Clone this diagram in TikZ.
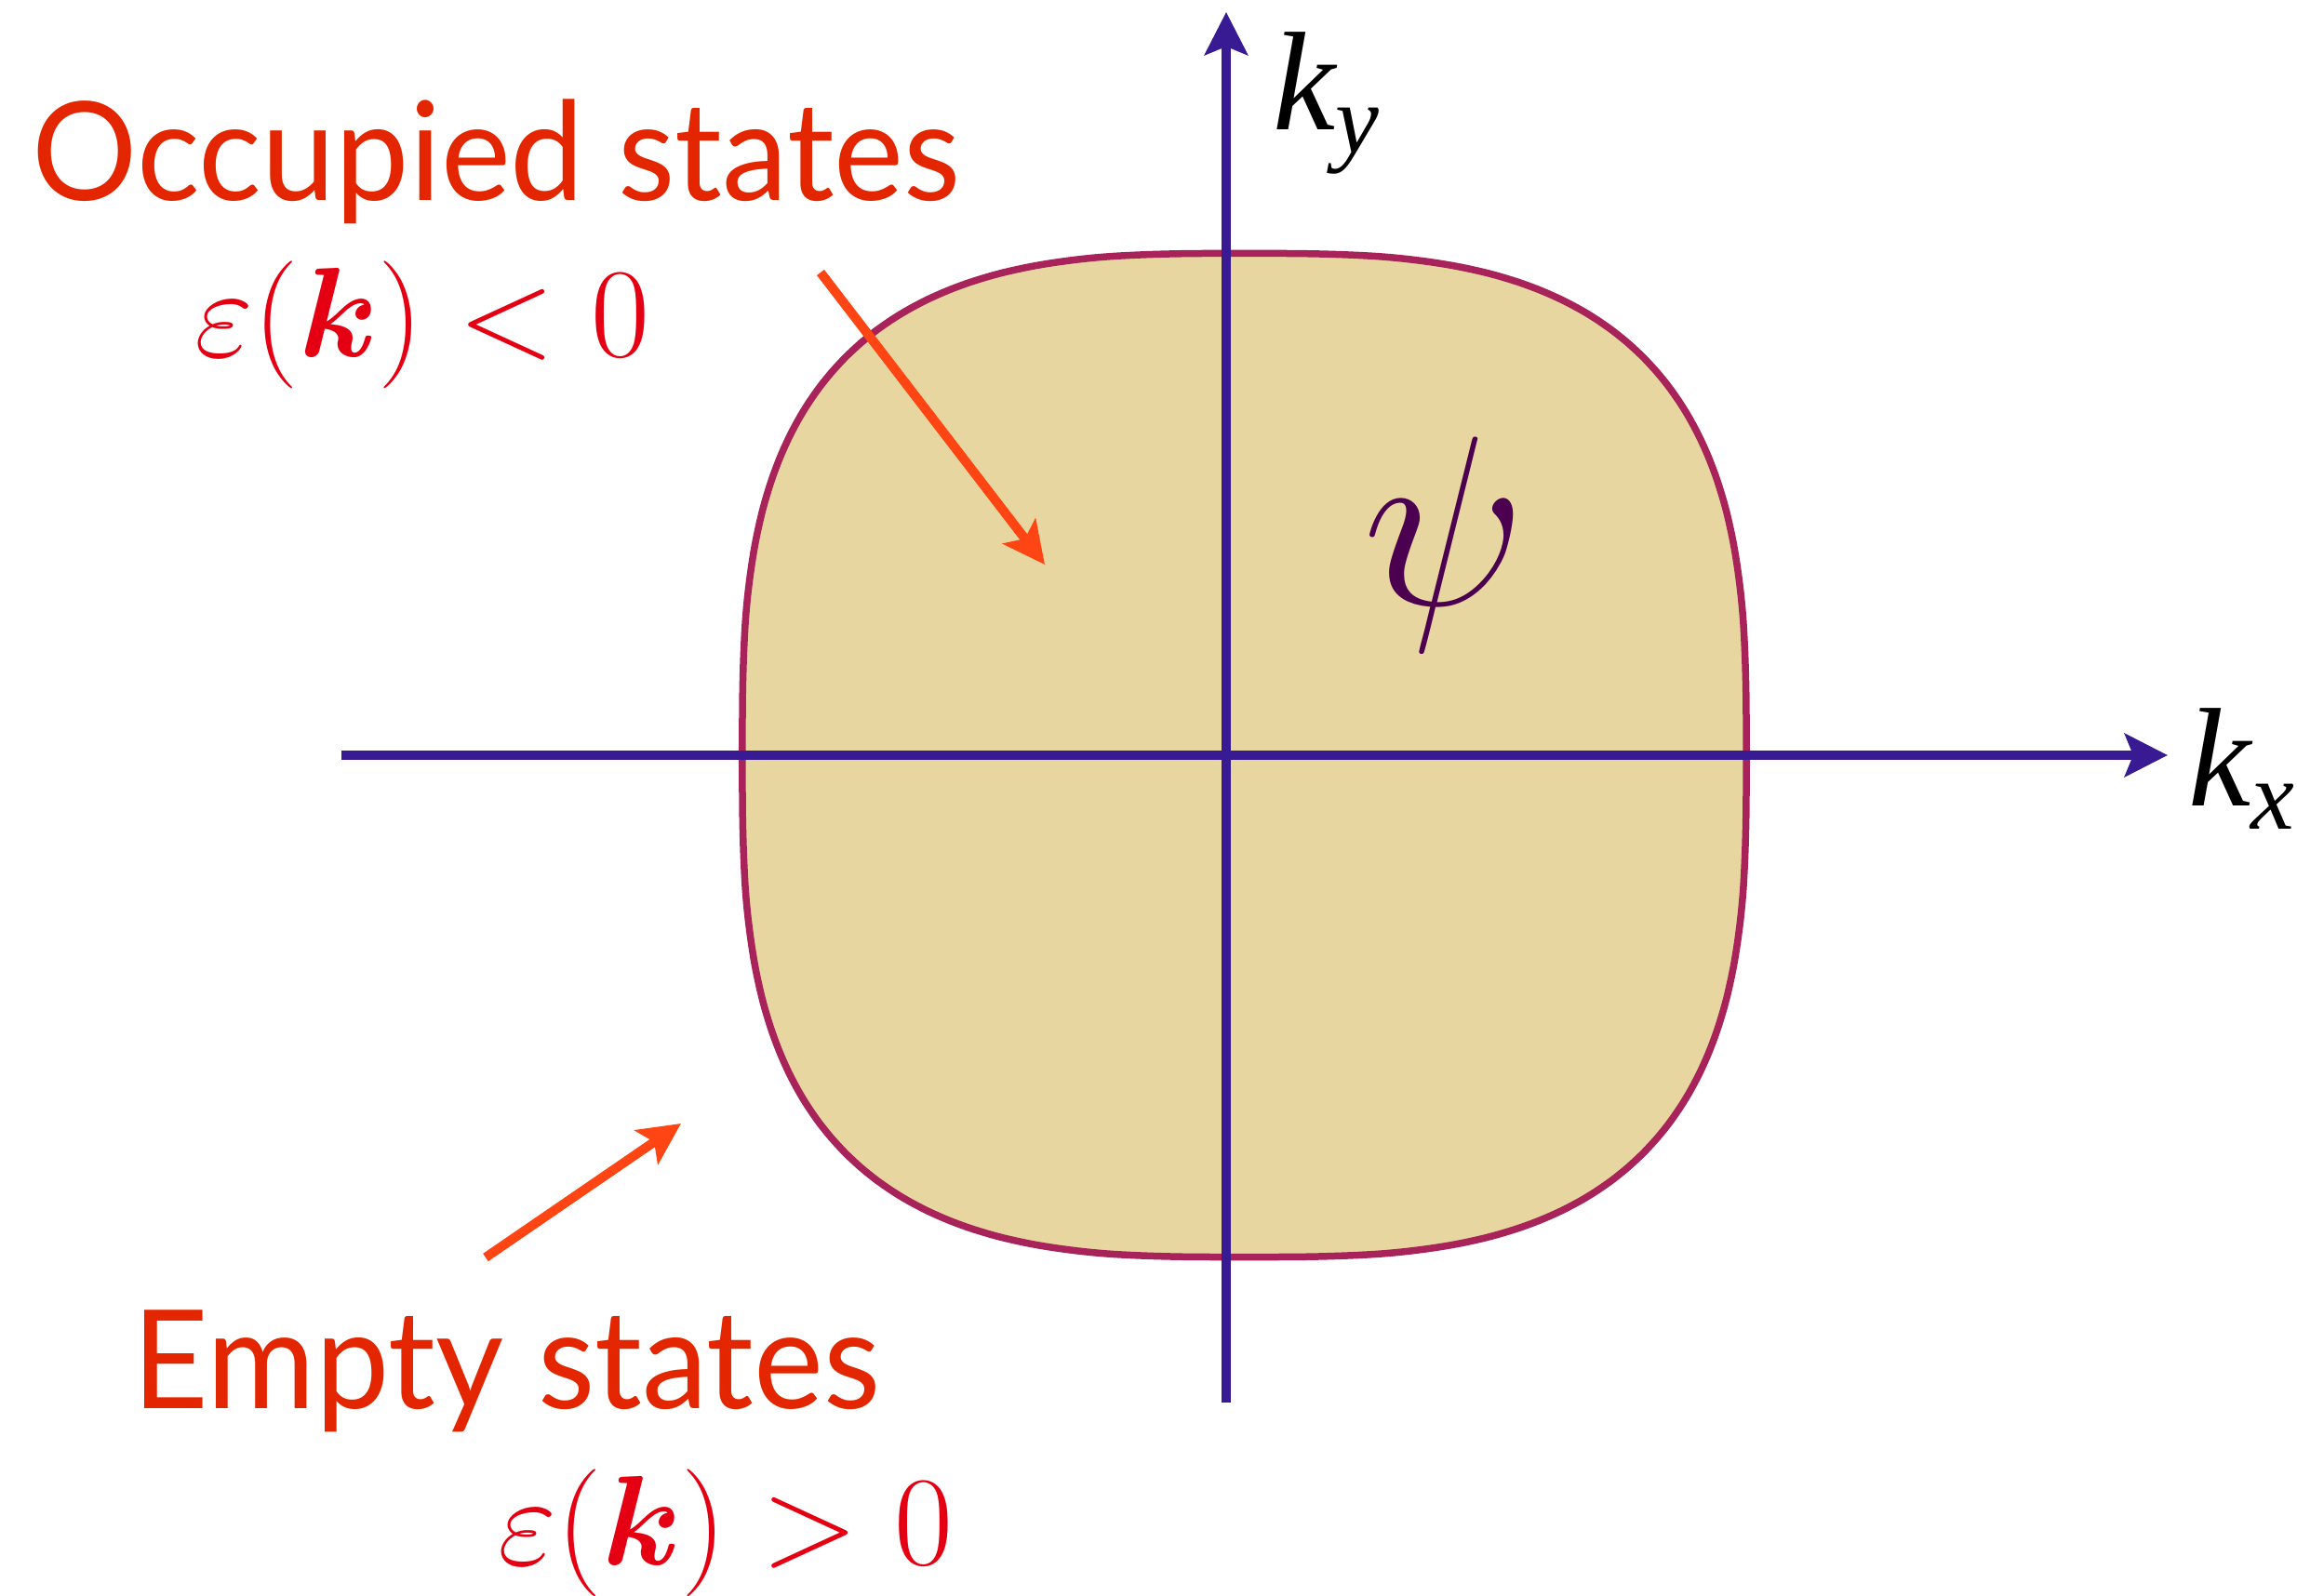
\RequirePackage{fix-cm}
\documentclass[tikz,border=0pt]{standalone}
\usepackage{amsmath,bm}
\usepackage{fontspec}
\newfontfamily\labelfont[FakeStretch=0.96]{Lato}
\newfontfamily\axfont{Liberation Serif}
\newcommand\klabel[1]{\itshape k\raisebox{-0.16em}{\fontsize{30}{32}\selectfont #1}}
\usetikzlibrary{arrows.meta}
\definecolor{axisblue}{RGB}{56,27,146}
\definecolor{fermiline}{RGB}{168,35,90}
\definecolor{fermifill}{RGB}{232,214,160}
\definecolor{pointer}{RGB}{255,69,19}
\definecolor{titlered}{RGB}{227,38,0}
\definecolor{mathred}{RGB}{228,0,18}
\definecolor{psicol}{RGB}{75,0,80}
\begin{document}
\begin{tikzpicture}[
  axis/.style={draw=axisblue,line width=0.1cm,-{Stealth[length=0.46cm,width=0.46cm,inset=0.09cm]}},
  pointarrow/.style={draw=pointer,line width=0.1cm,-{Stealth[length=0.45cm,width=0.44cm,inset=0.1cm]}},
  title/.style={text=titlered,font=\labelfont\fontsize{42}{50}\selectfont,inner sep=0,anchor=base west},
  cond/.style={text=mathred,font=\fontsize{39}{47}\selectfont,inner sep=0,anchor=base west},
  axlabel/.style={font=\axfont\fontsize{43}{50}\selectfont,inner sep=0,anchor=base west}]
  \useasboundingbox (-13.18,-9.04) rectangle (11.51,8.12);
  % Fermi surface
  \filldraw[fill=fermifill,draw=fermiline,line width=0.075cm,shift={(0.195,0)}]
    plot[domain=0:360,samples=241,smooth]
    ({5.395*sign(cos(\x))*pow(abs(cos(\x))+0.0001,0.667)},{5.395*sign(sin(\x))*pow(abs(sin(\x))+0.0001,0.667)}) -- cycle;
  % axes
  \coordinate (xs) at (-9.51,0);
  \coordinate (xe) at (10.12,0);
  \coordinate (ys) at (0,-6.96);
  \coordinate (ye) at (0,7.99);
  \draw[axis] (xs) -- (xe);
  \draw[axis] (ys) -- (ye);
  \node[axlabel] (kx) at (10.34,-0.55) {\klabel{x}};
  \node[axlabel] (ky) at (0.50,6.72) {\klabel{y}};
  \node[text=psicol,font=\fontsize{74}{88}\selectfont,inner sep=0] (psi) at (2.35,2.27) {$\psi$};
  % labels
  \node[title] (occ) at (-12.84,5.96) {Occupied states};
  \node[cond] (occcond) at (-11.09,4.28) {$\varepsilon(\bm{k})<0$};
  \node[title] (emp) at (-11.76,-7.03) {Empty states};
  \node[cond] (empcond) at (-7.83,-8.70) {$\varepsilon(\bm{k})>0$};
  % pointers
  \coordinate (occfrom) at (-4.36,5.19);
  \coordinate (occto) at (-1.95,2.05);
  \draw[pointarrow] (occfrom) -- (occto);
  \coordinate (empfrom) at (-7.96,-5.40);
  \coordinate (empto) at (-5.86,-3.96);
  \draw[pointarrow] (empfrom) -- (empto);
\end{tikzpicture}
\end{document}
